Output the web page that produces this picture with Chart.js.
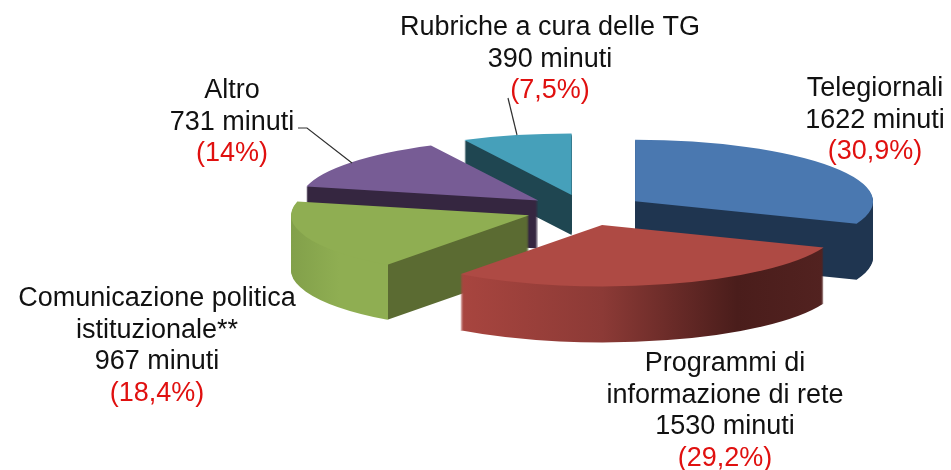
<!DOCTYPE html>
<html>
<head>
    <title>Minuti per genere</title>
    <script src="https://cdn.jsdelivr.net/npm/chart.js"></script>
    <style>
        html, body { margin: 0; padding: 0; background: #fff; overflow: hidden; }
        canvas { display: block; }
    </style>
</head>
<body>
    <canvas id="myChart" width="951" height="470"></canvas>

    <script>
        // Values
        var categories = ['Telegiornali', 'Programmi di informazione di rete', 'Comunicazione politica istituzionale**', 'Altro', 'Rubriche a cura delle TG'];
        var minutes = [1622, 1530, 967, 731, 390];
        var percents = ['(30,9%)', '(29,2%)', '(18,4%)', '(14%)', '(7,5%)'];

        // Look of the pie
        var topColors = ['#4a78b0', '#ae4a44', '#8fae52', '#775c95', '#46a0ba'];
        var depths = [56, 56, 55, 48, 40];
        var drawOrder = [4, 3, 0, 2, 1]; // back to front
        var RX = 238, RY = 61.5, EXPLODE = 60;

        // wall colours: [px from the slice apex, colour]
        var wallStops = [
            [[-238, '#1f3550'], [238, '#1f3550']],
            [[-141, '#a8453f'], [0, '#8c3a36'], [135, '#4a1d1b'], [222, '#522220']],
            [[-238, '#82a04a'], [-190, '#8fae52'], [-141.5, '#8fae52'], [-141, '#5b6b32'], [238, '#5b6b32']],
            [[-238, '#352640'], [238, '#352640']],
            [[-238, '#1f4651'], [238, '#1f4651']]
        ];

        // label text blocks: category lines, centre x, first baseline
        var labelLines = [
            ['Telegiornali'],
            ['Programmi di', 'informazione di rete'],
            ['Comunicazione politica', 'istituzionale**'],
            ['Altro'],
            ['Rubriche a cura delle TG']
        ];
        var labelX = [875, 725, 157, 232, 550];
        var labelY = [96, 371, 306, 98, 35];
        var LINE_H = 31.5;

        var leaders = [
            [[298, 128], [307, 128], [352, 163]],
            [[508, 98], [517, 135]]
        ];

        function wallGradient(ctx, arc, sx, stops) {
            var g = ctx.createLinearGradient(arc.x - RX / sx, 0, arc.x + RX / sx, 0);
            var first = stops[0], last = stops[stops.length - 1];
            g.addColorStop(0, first[1]);
            stops.forEach(function (s) {
                g.addColorStop((s[0] + RX) / (2 * RX), s[1]);
            });
            g.addColorStop(1, last[1]);
            return g;
        }

        // Tilted, exploded drawing of the arcs the doughnut controller laid out
        var pie3d = {
            id: 'pie3d',
            beforeDatasetsDraw: function (chart) {
                var ctx = chart.ctx;
                var arcs = chart.getDatasetMeta(0).data;
                drawOrder.forEach(function (i) {
                    var arc = arcs[i];
                    var base = arc.options;
                    var sx = RX / arc.outerRadius, sy = RY / arc.outerRadius;
                    var mid = (arc.startAngle + arc.endAngle) / 2;
                    var opts = Object.create(base);
                    arc.options = opts;

                    for (var d = depths[i]; d >= 0; d--) {
                        ctx.save();
                        ctx.translate(arc.x, arc.y + d);
                        ctx.scale(sx, sy);
                        ctx.translate(-arc.x, -arc.y);
                        ctx.translate(Math.cos(mid) * EXPLODE / sx, Math.sin(mid) * EXPLODE / sx);
                        opts.backgroundColor = d === 0 ? topColors[i] : wallGradient(ctx, arc, sx, wallStops[i]);
                        arc.draw(ctx);
                        ctx.restore();
                    }
                    arc.options = base;
                });
                return false;
            },
            afterDraw: function (chart) {
                var ctx = chart.ctx;
                ctx.save();
                ctx.strokeStyle = '#303030';
                ctx.lineWidth = 1.2;
                leaders.forEach(function (pts) {
                    ctx.beginPath();
                    pts.forEach(function (p, k) {
                        if (k === 0) ctx.moveTo(p[0], p[1]);
                        else ctx.lineTo(p[0], p[1]);
                    });
                    ctx.stroke();
                });
                ctx.font = '27px "Liberation Sans", Arial, sans-serif';
                ctx.textAlign = 'center';
                ctx.textBaseline = 'alphabetic';
                categories.forEach(function (c, i) {
                    var lines = labelLines[i].concat([minutes[i] + ' minuti']);
                    var y = labelY[i];
                    ctx.fillStyle = '#111111';
                    lines.forEach(function (t) {
                        ctx.fillText(t, labelX[i], y);
                        y += LINE_H;
                    });
                    ctx.fillStyle = '#e0100f';
                    ctx.fillText(percents[i], labelX[i], y);
                });
                ctx.restore();
            }
        };

        var ctx = document.getElementById('myChart').getContext('2d');
        var myChart = new Chart(ctx, {
            type: 'pie',
            data: {
                labels: categories,
                datasets: [{ data: minutes, backgroundColor: topColors, borderWidth: 0 }]
            },
            options: {
                responsive: false,
                animation: false,
                layout: { padding: { left: 220, bottom: 50 } },
                plugins: { legend: { display: false }, tooltip: { enabled: false } }
            },
            plugins: [pie3d]
        });
    </script>
</body>
</html>
